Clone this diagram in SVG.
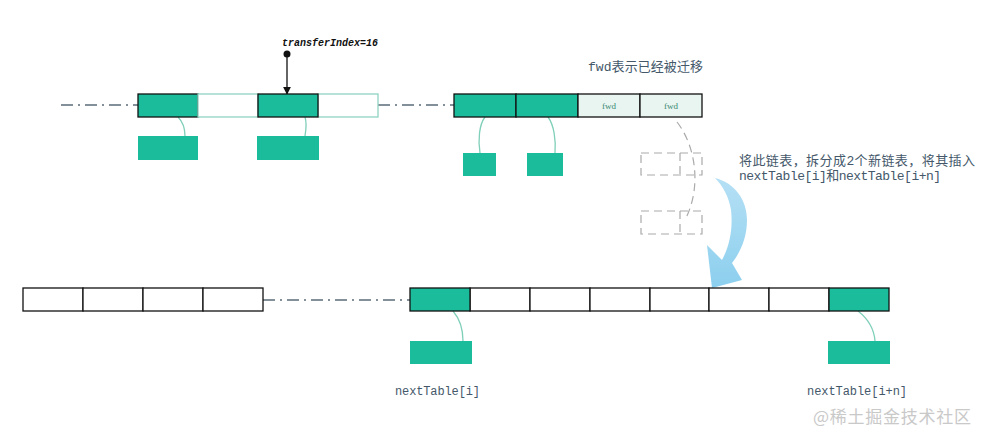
<svg xmlns="http://www.w3.org/2000/svg" width="988" height="441" viewBox="0 0 988 441">
<defs>
<style>
.g{fill:#1bbc9b;stroke:none}
.gc{fill:#1bbc9b;stroke:#111;stroke-width:1.3}
.wc{fill:#fff;stroke:#111;stroke-width:1.3}
.wt{fill:#fff;stroke:#8fd3c2;stroke-width:1.3}
.fw{fill:#e9f5f0;stroke:#111;stroke-width:1.3}
.dd{fill:none;stroke:#5b6b78;stroke-width:1.3;stroke-dasharray:12 5 2 5}
.cv{fill:none;stroke:#7fcfb9;stroke-width:1.3}
.ds{fill:none;stroke:#aaa;stroke-width:1.2;stroke-dasharray:8 5}
.t{font-family:"Liberation Mono","Noto Sans CJK SC",monospace;fill:#44586a}
</style>
<linearGradient id="bl" x1="0" y1="0" x2="0" y2="1">
<stop offset="0" stop-color="#b5e0f5"/>
<stop offset="1" stop-color="#8ccfee"/>
</linearGradient>
<marker id="ah" viewBox="0 0 10 10" refX="9" refY="5" markerWidth="8" markerHeight="8" orient="auto" markerUnits="userSpaceOnUse">
<path d="M0,0 L10,5 L0,10 Z" fill="#111"/>
</marker>
</defs>
<rect width="988" height="441" fill="#fff"/>

<g id="connectors">
<line class="dd" x1="61" y1="105" x2="138" y2="105"/>
<line class="dd" x1="378" y1="105" x2="455" y2="105"/>
<line class="dd" x1="263" y1="300" x2="410" y2="300"/>
<path class="cv" d="M178,117 C183,122 185,128 185,136"/>
<path class="cv" d="M305,117 C307,123 306,130 305,136"/>
<path class="cv" d="M485,117 C479,125 478,140 480,153"/>
<path class="cv" d="M548,117 C554,125 556,140 555,153"/>
<path class="cv" d="M453,311 C459,318 463,328 463,341"/>
<path class="cv" d="M858,311 C867,318 874,328 875,341"/>
<path d="M677,122 C695,145 702,185 686,218" fill="none" stroke="#aaa" stroke-width="1.2" stroke-dasharray="8 5"/>
<circle cx="287" cy="54" r="3.5" fill="#111"/>
<line x1="287" y1="54" x2="287" y2="94" stroke="#111" stroke-width="1.3" marker-end="url(#ah)"/>
</g>

<g id="top-left-array">
<rect class="gc" x="138" y="94" width="60" height="23"/>
<rect class="wt" x="198" y="94" width="60" height="23"/>
<rect class="wt" x="318" y="94" width="60" height="23"/>
<rect class="gc" x="258" y="94" width="60" height="23"/>
</g>
<g id="top-left-nodes">
<rect class="g" x="138" y="136" width="60" height="24"/>
<rect class="g" x="257" y="136" width="62" height="24"/>
</g>
<g id="transfer-label">
<text x="330" y="46" text-anchor="middle" font-family="'Liberation Mono',monospace" font-size="10" font-style="italic" font-weight="bold" fill="#111">transferIndex=16</text>
</g>

<g id="top-right-array">
<rect class="gc" x="454" y="94" width="62" height="23"/>
<rect class="gc" x="516" y="94" width="62" height="23"/>
<rect class="fw" x="578" y="94" width="62" height="23"/>
<rect class="fw" x="640" y="94" width="62" height="23"/>
<text x="609" y="109" text-anchor="middle" font-family="'Liberation Serif',serif" font-size="9" fill="#3a8a74">fwd</text>
<text x="671" y="109" text-anchor="middle" font-family="'Liberation Serif',serif" font-size="9" fill="#3a8a74">fwd</text>
</g>
<g id="top-right-nodes">
<rect class="g" x="463" y="153" width="33" height="23"/>
<rect class="g" x="527" y="153" width="36" height="23"/>
</g>
<g id="fwd-label">
<text class="t" x="588" y="71" font-size="13" textLength="115" lengthAdjust="spacing">fwd表示已经被迁移</text>
</g>

<g id="dashed-nodes">
<rect class="ds" x="641" y="153" width="61" height="22"/>
<line class="ds" x1="680" y1="153" x2="680" y2="175"/>
<rect class="ds" x="641" y="211" width="61" height="23"/>
<line class="ds" x1="680" y1="211" x2="680" y2="234"/>
</g>

<g id="blue-arrow">
<path d="M715,178 C735,183 747,200 747,220 C747,238 740,253 732,263 L742,280 L712,288 L707,245 L722,260 C730,245 733,228 731,210 C729,197 723,186 715,178 Z" fill="url(#bl)"/>
</g>

<g id="split-label">
<text class="t" x="739" y="165" font-size="13" textLength="236" lengthAdjust="spacing">将此链表，拆分成2个新链表，将其插入</text>
<text class="t" x="739" y="180" font-size="13" textLength="202" lengthAdjust="spacing">nextTable[i]和nextTable[i+n]</text>
</g>

<g id="bottom-left-array">
<rect class="wc" x="23" y="288" width="60" height="23"/>
<rect class="wc" x="83" y="288" width="60" height="23"/>
<rect class="wc" x="143" y="288" width="60" height="23"/>
<rect class="wc" x="203" y="288" width="60" height="23"/>
</g>

<g id="bottom-right-array">
<rect class="wc" x="470" y="288" width="60" height="23"/>
<rect class="wc" x="530" y="288" width="60" height="23"/>
<rect class="wc" x="590" y="288" width="60" height="23"/>
<rect class="wc" x="650" y="288" width="59" height="23"/>
<rect class="wc" x="709" y="288" width="60" height="23"/>
<rect class="wc" x="769" y="288" width="60" height="23"/>
<rect class="gc" x="410" y="288" width="60" height="23"/>
<rect class="gc" x="829" y="288" width="60" height="23"/>
</g>
<g id="bottom-nodes">
<rect class="g" x="410" y="341" width="62" height="23"/>
<rect class="g" x="828" y="341" width="62" height="23"/>
</g>
<g id="bottom-labels">
<text class="t" x="395" y="395" font-size="12" textLength="85" lengthAdjust="spacing">nextTable[i]</text>
<text class="t" x="807" y="395" font-size="12" textLength="100" lengthAdjust="spacing">nextTable[i+n]</text>
</g>
<g id="watermark">
<text x="813" y="423" font-family="'Noto Sans CJK SC',sans-serif" font-size="17" fill="#c9c9c9" textLength="158" lengthAdjust="spacing">@稀土掘金技术社区</text>
</g>
</svg>
